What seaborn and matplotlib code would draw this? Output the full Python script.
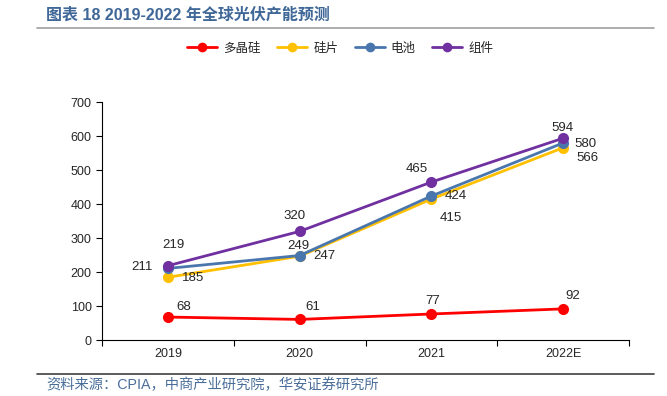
import matplotlib
matplotlib.use("Agg")
import matplotlib.pyplot as plt
import seaborn as sns
import pandas as pd
from matplotlib.lines import Line2D

years = ["2019", "2020", "2021", "2022E"]
polysilicon = [68, 61, 77, 92]
wafer = [185, 247, 415, 566]
cell = [211, 249, 424, 580]
module = [219, 320, 465, 594]
series_names = ["多晶硅", "硅片", "电池", "组件"]
colors = ["#FF0000", "#FFC000", "#4A76AE", "#7030A0"]

sns.set_style("white")
plt.rcParams["font.family"] = ["Liberation Sans", "Noto Sans CJK SC", "DejaVu Sans"]

rows = []
for name, vals in zip(series_names, [polysilicon, wafer, cell, module]):
    for i, (y, v) in enumerate(zip(years, vals)):
        rows.append({"year": y, "pos": i, "value": v, "series": name})
df = pd.DataFrame(rows)

fig = plt.figure(figsize=(6.67, 3.96), dpi=100)
ax = fig.add_axes([0.153, 0.141, 0.79, 0.601])

sns.lineplot(data=df, x="pos", y="value", hue="series", hue_order=series_names,
             palette=colors, marker="o", markersize=8, markeredgewidth=0,
             linewidth=2, ax=ax, legend=False)

ax.set_xlim(-0.5, 3.5)
ax.set_ylim(0, 700)
ax.set_yticks(range(0, 701, 100))
ax.set_xticks([-0.5, 0.5, 1.5, 2.5, 3.5])
ax.set_xticklabels([])
ax.set_xticks(range(len(years)), minor=True)
ax.set_xticklabels(years, minor=True)
ax.tick_params(axis="x", which="minor", length=0, pad=6, labelsize=9)
ax.tick_params(axis="x", which="major", length=4, direction="out", bottom=True, color="black", width=0.8)
ax.tick_params(axis="y", length=4, direction="out", left=True, labelsize=9, color="black", width=0.8)
ax.set_xlabel("")
ax.set_ylabel("")
for s in ["top", "right"]:
    ax.spines[s].set_visible(False)
for s in ["left", "bottom"]:
    ax.spines[s].set_color("black")
    ax.spines[s].set_linewidth(0.8)

# data labels (offsets in pixels)
label_offsets = {
    "多晶硅": [(16, 10), (13, 12), (1, 13), (10, 13)],
    "硅片": [(25, -1), (25, 0), (19, -19), (24, -10)],
    "电池": [(-26, 1), (-1, 10), (24, 0), (22, -1)],
    "组件": [(6, 21), (-5, 15), (-15, 13), (-1, 10)],
}
for name, vals in zip(series_names, [polysilicon, wafer, cell, module]):
    for i, v in enumerate(vals):
        dx, dy = label_offsets[name][i]
        ax.annotate(str(v), (i, v), xytext=(dx, dy), textcoords="offset pixels",
                    ha="center", va="center", fontsize=9.5)

handles = [Line2D([0], [0], color=c, lw=2, marker="o", markersize=7, markeredgewidth=0)
           for c in colors]
fig.legend(handles, series_names, loc="center", bbox_to_anchor=(0.51, 0.877), ncol=4,
           frameon=False, fontsize=9, handlelength=2.4, columnspacing=1.3, handletextpad=0.5)

fig.text(0.069, 0.962, "图表 18 2019-2022 年全球光伏产能预测", fontsize=11.5,
         fontweight="bold", color="#3F6797", va="center", ha="left")
fig.add_artist(Line2D([0.055, 0.98], [0.929, 0.929], color="#A0A0A0", lw=1.2))
fig.add_artist(Line2D([0.055, 0.98], [0.055, 0.055], color="#404040", lw=1.2))
fig.text(0.069, 0.027, "资料来源：CPIA，中商产业研究院，华安证券研究所", fontsize=10.3,
         color="#4A6E9A", va="center", ha="left")

fig.savefig("out.png", dpi=100)
